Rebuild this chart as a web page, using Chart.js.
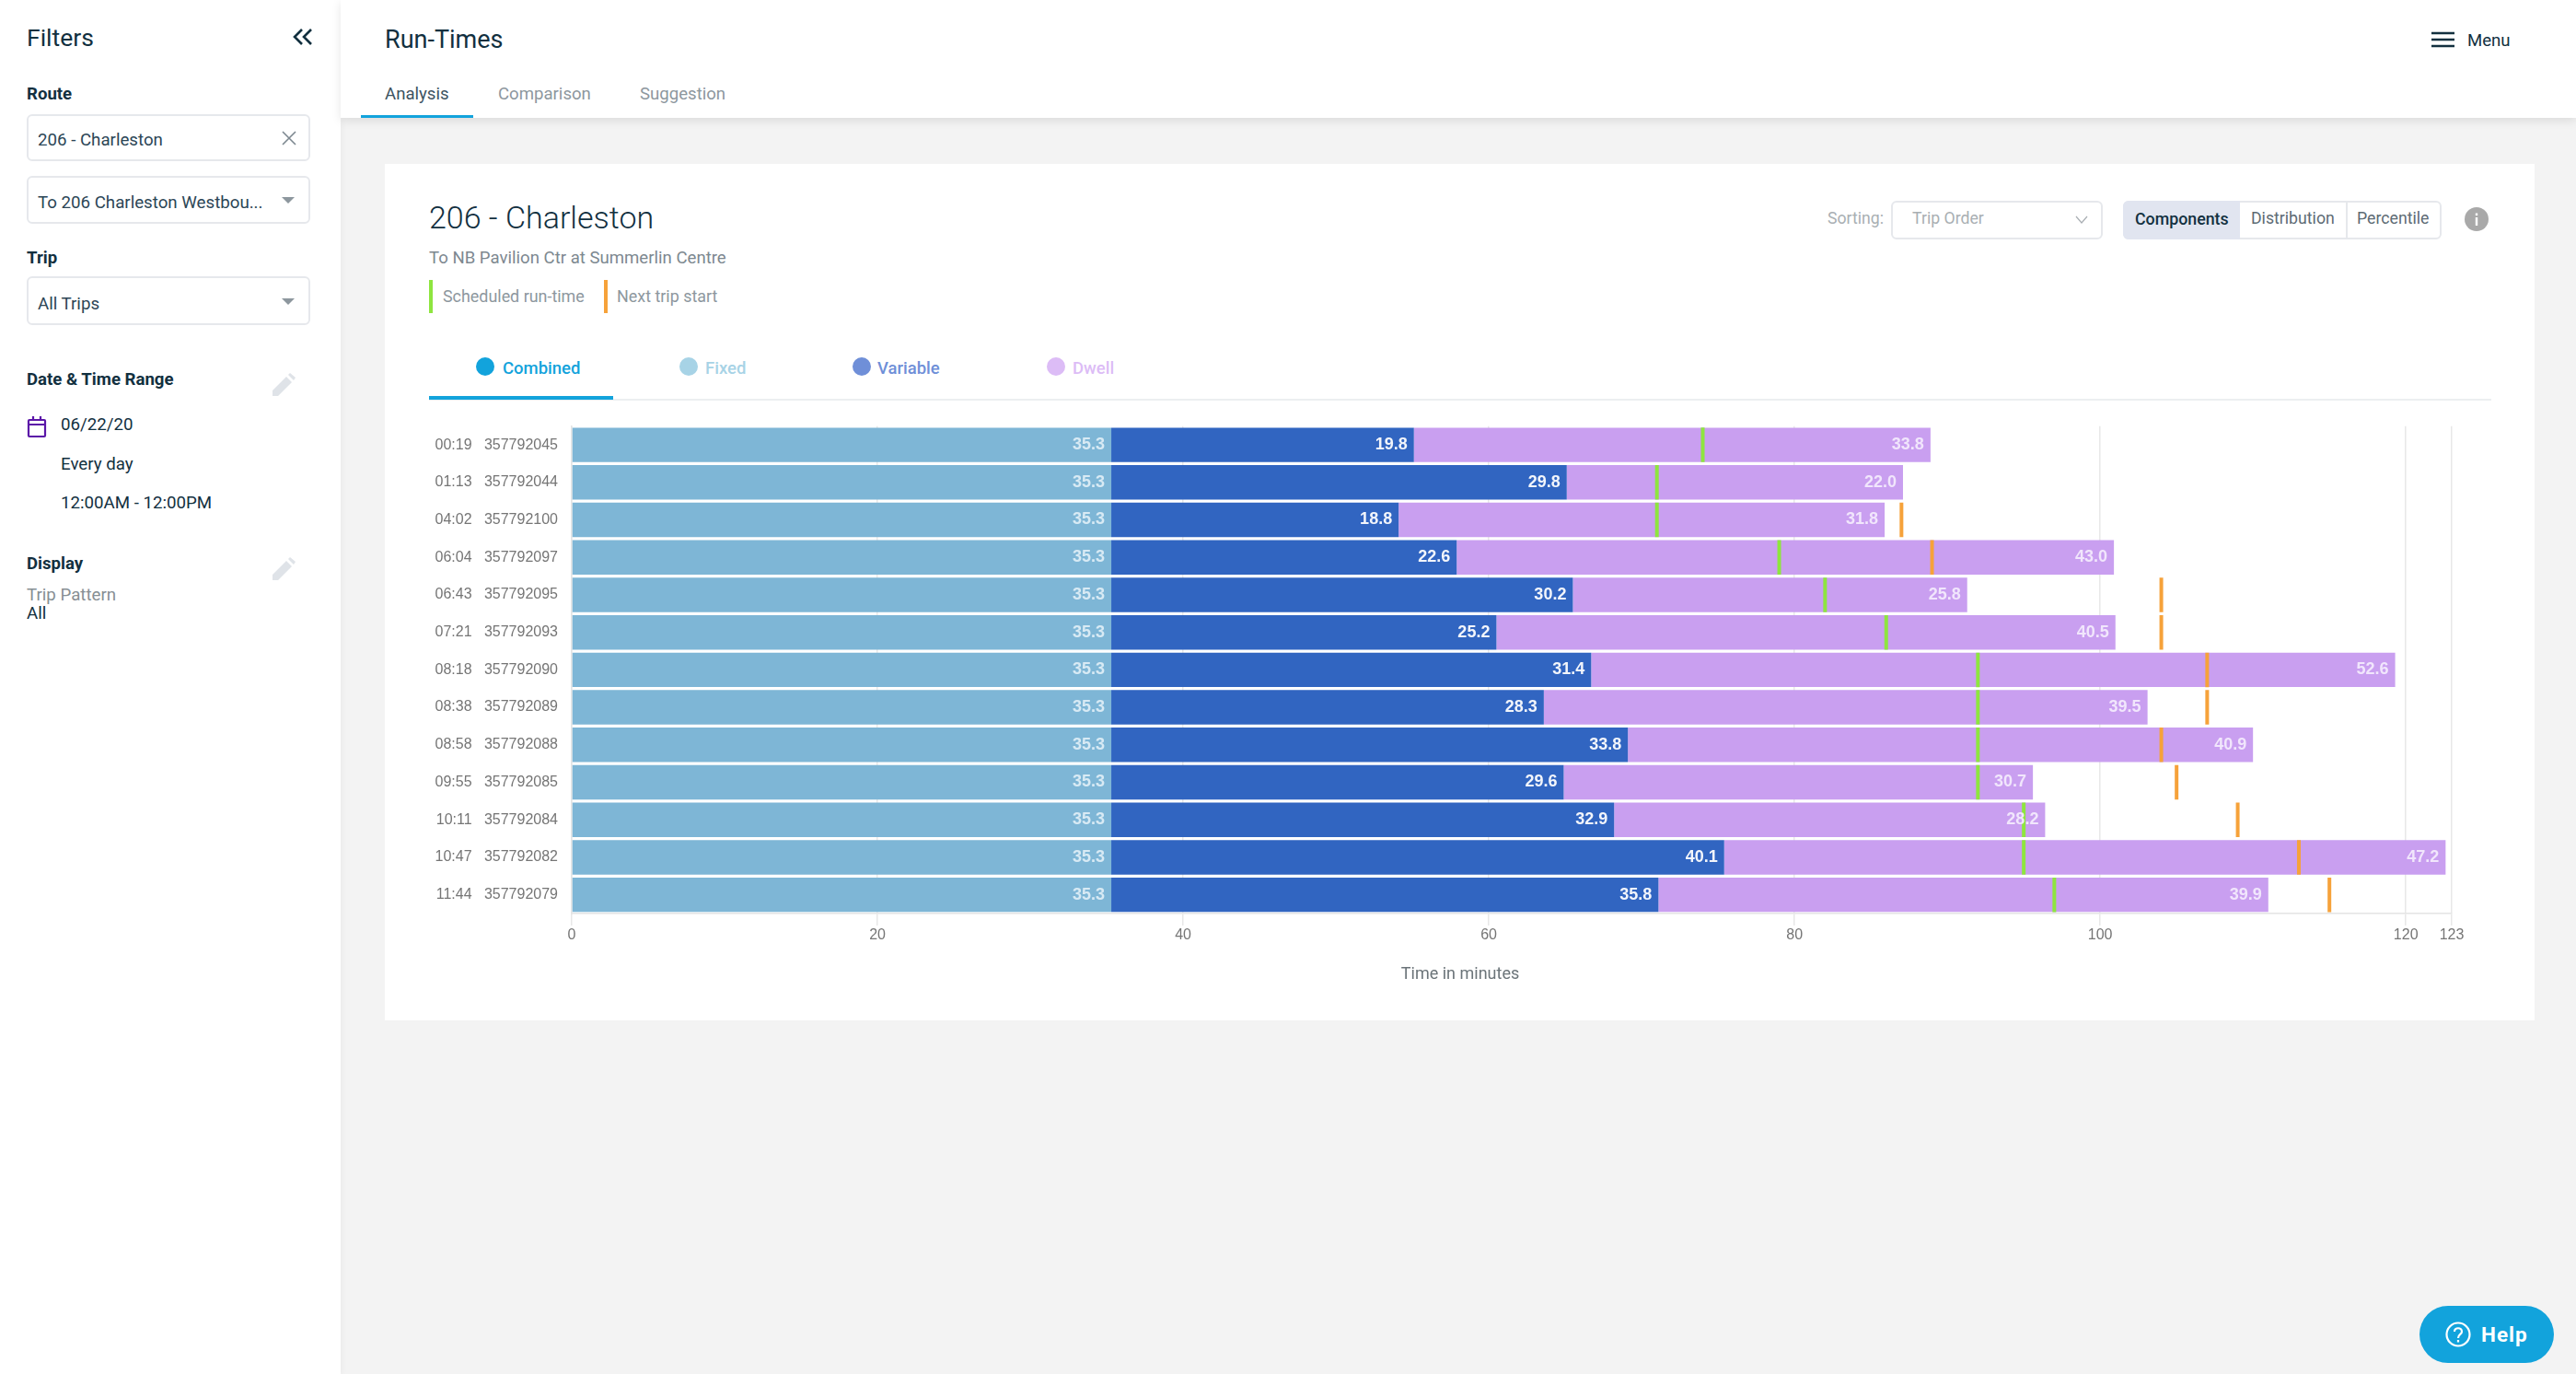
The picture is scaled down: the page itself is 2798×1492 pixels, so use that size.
<!DOCTYPE html><html lang="en">
<head>
  <meta charset="UTF-8" />
  <title>Run-Times</title>
  <script src="https://cdn.jsdelivr.net/npm/chart.js"></script>
  <style>
    html, body { margin: 0; padding: 0; }
    body {
      width: 2798px; height: 1492px; position: relative; overflow: hidden;
      background: #f3f3f3; font-family: Roboto, sans-serif; color: #12303f;
    }
    .sidebar { position: absolute; left: 0; top: 0; width: 370px; height: 1492px; background: #fff; box-shadow: 2px 0 6px rgba(0,0,0,.04); }
    .header { position: absolute; left: 370px; top: 0; width: 2428px; height: 128px; background: #fff; box-shadow: 0 3px 10px rgba(0,0,0,.10); }
    .card { position: absolute; left: 418px; top: 178px; width: 2335px; height: 930px; background: #fff; }
    .t { position: absolute; transform: translateY(-50%); white-space: nowrap; line-height: 1.2; }
    .box { position: absolute; box-sizing: border-box; background: #fff; border: 2px solid #e6e8ec; border-radius: 6px; }
    .rect { position: absolute; }
    .lab { font-size: 18.6px; font-weight: 700; color: #12303f; }
    .val { font-size: 18.7px; color: #2c4656; }
    .caret { position: absolute; width: 0; height: 0; border-left: 7px solid transparent; border-right: 7px solid transparent; border-top: 7px solid #8d979e; }
    .dot { position: absolute; width: 20px; height: 20px; border-radius: 50%; }
    svg { position: absolute; }
    canvas { position: absolute; left: 440px; top: 440px; }
  </style>
</head>
<body>
  <div class="sidebar"></div>
  <div class="header"></div>
  <div class="card"></div>

  <!-- Filters -->
  <div class="t" style="left:29px;top:41px;font-size:26.5px;">Filters</div>
  <svg style="left:318px;top:30px" width="22" height="20" viewBox="0 0 22 20" fill="none" stroke="#12303f" stroke-width="2.6"><path d="M10 2 L2 10 L10 18"/><path d="M20 2 L12 10 L20 18"/></svg>

  <div class="t lab" style="left:29px;top:102px;">Route</div>
  <div class="box" style="left:29px;top:124px;width:308px;height:51px;"></div>
  <div class="t val" style="left:41px;top:152px;">206 - Charleston</div>
  <svg style="left:306px;top:142px" width="16" height="16" viewBox="0 0 16 16" stroke="#7d8890" stroke-width="1.6"><path d="M1 1 L15 15 M15 1 L1 15"/></svg>
  <div class="box" style="left:29px;top:191px;width:308px;height:52px;"></div>
  <div class="t val" style="left:41px;top:220px;">To 206 Charleston Westbou...</div>
  <div class="caret" style="left:306px;top:214px;"></div>

  <div class="t lab" style="left:29px;top:280px;">Trip</div>
  <div class="box" style="left:29px;top:300px;width:308px;height:53px;"></div>
  <div class="t val" style="left:41px;top:330px;">All Trips</div>
  <div class="caret" style="left:306px;top:324px;"></div>

  <div class="t lab" style="left:29px;top:412px;">Date &amp; Time Range</div>
  <svg style="left:296px;top:405px" width="25" height="25" viewBox="0 0 25 25" fill="#dfe3e8"><path d="M0 19 L15 4 L21 10 L6 25 L0 25 Z M17 2 L19 0 L25 5 L23 8 Z"/></svg>
  <svg style="left:29px;top:452px" width="22" height="24" viewBox="0 0 22 24" fill="none" stroke="#5b16a8" stroke-width="2.2"><rect x="2" y="4" width="18" height="18" rx="1"/><path d="M2 9 H20 M7 0 V4 M15 0 V4"/></svg>
  <div class="t val" style="left:66px;top:461px;color:#12303f;">06/22/20</div>
  <div class="t val" style="left:66px;top:504px;color:#12303f;">Every day</div>
  <div class="t val" style="left:66px;top:546px;color:#12303f;">12:00AM - 12:00PM</div>

  <div class="t lab" style="left:29px;top:612px;">Display</div>
  <svg style="left:296px;top:605px" width="25" height="25" viewBox="0 0 25 25" fill="#dfe3e8"><path d="M0 19 L15 4 L21 10 L6 25 L0 25 Z M17 2 L19 0 L25 5 L23 8 Z"/></svg>
  <div class="t val" style="left:29px;top:646px;color:#878f94;">Trip Pattern</div>
  <div class="t val" style="left:29px;top:666px;color:#12303f;">All</div>

  <!-- Header -->
  <div class="t" style="left:418px;top:43px;font-size:27px;">Run-Times</div>
  <div class="t" style="left:418px;top:102px;font-size:18.6px;color:#3c5361;">Analysis</div>
  <div class="t" style="left:541px;top:102px;font-size:18.6px;color:#8d979e;">Comparison</div>
  <div class="t" style="left:695px;top:102px;font-size:18.6px;color:#8d979e;">Suggestion</div>
  <div class="rect" style="left:392px;top:125px;width:122px;height:3px;background:#12a3dc;"></div>
  <svg style="left:2641px;top:34px" width="25" height="18" viewBox="0 0 25 18" stroke="#12303f" stroke-width="2.4"><path d="M0 2 H25 M0 9 H25 M0 16 H25"/></svg>
  <div class="t" style="left:2680px;top:44px;font-size:18.6px;">Menu</div>

  <!-- Card heading -->
  <div class="t" style="left:466px;top:236px;font-size:34px;font-weight:300;">206 - Charleston</div>
  <div class="t" style="left:466px;top:280px;font-size:18.6px;color:#7d8890;">To NB Pavilion Ctr at Summerlin Centre</div>
  <div class="rect" style="left:466px;top:304px;width:4px;height:36px;background:#8ee53f;"></div>
  <div class="t" style="left:481px;top:322px;font-size:17.9px;color:#8d979e;">Scheduled run-time</div>
  <div class="rect" style="left:656px;top:304px;width:4px;height:36px;background:#f6a23a;"></div>
  <div class="t" style="left:670px;top:322px;font-size:17.9px;color:#8d979e;">Next trip start</div>

  <!-- Sorting and view switch -->
  <div class="t" style="left:1985px;top:238px;font-size:17.7px;color:#a9afb3;">Sorting:</div>
  <div class="box" style="left:2054px;top:218px;width:230px;height:42px;"></div>
  <div class="t" style="left:2077px;top:238px;font-size:17.7px;color:#a9afb3;">Trip Order</div>
  <svg style="left:2254px;top:234px" width="14" height="9" viewBox="0 0 14 9" fill="none" stroke="#a9afb3" stroke-width="1.2"><path d="M1 1 L7 8 L13 1"/></svg>
  <div class="box" style="left:2306px;top:218px;width:346px;height:42px;"></div>
  <div class="rect" style="left:2306px;top:218px;width:127px;height:42px;background:#e1e5f0;border-radius:6px 0 0 6px;"></div>
  <div class="rect" style="left:2548px;top:218px;width:2px;height:42px;background:#e6e8ec;"></div>
  <div class="t" style="left:2319px;top:238px;font-size:17.8px;font-weight:500;color:#12303f;">Components</div>
  <div class="t" style="left:2445px;top:238px;font-size:17.7px;color:#5d6b74;">Distribution</div>
  <div class="t" style="left:2560px;top:238px;font-size:17.7px;color:#5d6b74;">Percentile</div>
  <svg style="left:2677px;top:225px" width="26" height="26" viewBox="0 0 26 26"><circle cx="13" cy="13" r="13" fill="#a9a9a9"/><rect x="11.8" y="11" width="2.4" height="9" fill="#fff"/><rect x="11.8" y="6.5" width="2.4" height="2.6" fill="#fff"/></svg>

  <!-- Component tabs -->
  <div class="dot" style="left:517px;top:388px;background:#12a3dc;"></div>
  <div class="t" style="left:546px;top:400px;font-size:18.5px;font-weight:500;color:#12a3dc;">Combined</div>
  <div class="dot" style="left:738px;top:388px;background:#a7d3e6;"></div>
  <div class="t" style="left:766px;top:400px;font-size:18.5px;font-weight:500;color:#a7d3e6;">Fixed</div>
  <div class="dot" style="left:926px;top:388px;background:#6f8fd8;"></div>
  <div class="t" style="left:953px;top:400px;font-size:18.5px;font-weight:500;color:#6f8fd8;">Variable</div>
  <div class="dot" style="left:1137px;top:388px;background:#dcbcf6;"></div>
  <div class="t" style="left:1165px;top:400px;font-size:18.5px;font-weight:500;color:#dcbcf6;">Dwell</div>
  <div class="rect" style="left:466px;top:433px;width:2240px;height:2px;background:#eceff1;"></div>
  <div class="rect" style="left:466px;top:430px;width:200px;height:4px;background:#12a3dc;"></div>

  <canvas id="runTimes" width="2263" height="640"></canvas>
  <div class="t" style="left:1586px;top:1057px;transform:translate(-50%,-50%);font-size:18px;color:#6b7479;">Time in minutes</div>

  <!-- Help button -->
  <div class="rect" style="left:2628px;top:1418px;width:146px;height:62px;border-radius:31px;background:#12a3dc;"></div>
  <svg style="left:2656px;top:1435px" width="28" height="28" viewBox="0 0 28 28" fill="none" stroke="#fff" stroke-width="2.2"><circle cx="14" cy="14" r="12.5"/><path d="M10 11 C10 6 18 6 18 11 C18 14 14 14 14 18" /><path d="M14 20 V22.5"/></svg>
  <div class="t" style="left:2695px;top:1449px;font-size:22.5px;font-weight:700;letter-spacing:1px;color:#fff;">Help</div>

  <script>
    const tripTimes = ['00:19','01:13','04:02','06:04','06:43','07:21','08:18','08:38','08:58','09:55','10:11','10:47','11:44'];
    const tripIds = ['357792045','357792044','357792100','357792097','357792095','357792093','357792090','357792089','357792088','357792085','357792084','357792082','357792079'];
    const fixedTimes = [35.3,35.3,35.3,35.3,35.3,35.3,35.3,35.3,35.3,35.3,35.3,35.3,35.3];
    const variableTimes = [19.8,29.8,18.8,22.6,30.2,25.2,31.4,28.3,33.8,29.6,32.9,40.1,35.8];
    const dwellTimes = [33.8,22.0,31.8,43.0,25.8,40.5,52.6,39.5,40.9,30.7,28.2,47.2,39.9];
    const scheduledRunTime = [74,71,71,79,82,86,92,92,92,92,95,95,97];
    const nextTripStart = [null,null,87,89,104,104,107,107,104,105,109,113,115];
    const xTicks = [0,20,40,60,80,100,120,123];

    const rowLabels = tripTimes.map((t, i) => t + '   ' + tripIds[i]);

    // value labels go on top of everything, so the markers pass underneath
    const barLabels = {
      id: 'barLabels',
      afterDraw(chart) {
        const ctx = chart.ctx;
        ctx.save();
        ctx.font = 'bold 18px "Liberation Sans", Arial, sans-serif';
        ctx.textAlign = 'right';
        ctx.textBaseline = 'middle';
        chart.data.datasets.forEach((ds, d) => {
          if (ds.type !== 'bar') return;
          chart.getDatasetMeta(d).data.forEach((el, i) => {
            ctx.fillStyle = ds.labelColor;
            ctx.fillText(ds.data[i].toFixed(1), el.x - 7, el.y);
          });
        });
        ctx.restore();
      }
    };

    function markerSet(label, values, color) {
      return {
        type: 'scatter',
        label: label,
        data: values.map((v, i) => ({ x: v, y: rowLabels[i] })),
        pointStyle: 'line',
        rotation: 90,
        radius: 18.75,
        borderColor: color,
        backgroundColor: color,
        borderWidth: 4
      };
    }

    new Chart(document.getElementById('runTimes'), {
      data: {
        labels: rowLabels,
        datasets: [
          markerSet('Scheduled run-time', scheduledRunTime, '#8ee53f'),
          markerSet('Next trip start', nextTripStart, '#f6a23a'),
          { type: 'bar', label: 'Fixed', data: fixedTimes, backgroundColor: '#7eb6d6', labelColor: '#d8eaf4', order: 2 },
          { type: 'bar', label: 'Variable', data: variableTimes, backgroundColor: '#3165c1', labelColor: '#f2f5fb', order: 2 },
          { type: 'bar', label: 'Dwell', data: dwellTimes, backgroundColor: '#c99ff0', labelColor: '#f1e6fc', order: 2 }
        ]
      },
      options: {
        responsive: false,
        animation: false,
        datasets: { bar: { indexAxis: 'y', barPercentage: 0.92, categoryPercentage: 1 } },
        layout: { padding: { top: 21, right: 40, bottom: 0, left: 0 } },
        plugins: { legend: { display: false }, tooltip: { enabled: false } },
        scales: {
          x: {
            type: 'linear',
            stacked: true,
            min: 0,
            max: 123,
            afterBuildTicks: axis => { axis.ticks = xTicks.map(v => ({ value: v })); },
            afterFit: axis => { axis.height = 88; },
            grid: { color: '#e8e8e8', lineWidth: 1.5, tickLength: 13 },
            border: { color: '#e4e4e4', width: 1.5 },
            ticks: { autoSkip: false, maxRotation: 0, padding: 1, color: '#757575', font: { family: '"Liberation Sans", Arial, sans-serif', size: 16 } }
          },
          y: {
            type: 'category',
            stacked: true,
            offset: true,
            afterFit: axis => { axis.width = 181; },
            grid: { display: false },
            border: { color: '#e4e4e4', width: 1.5 },
            ticks: { autoSkip: false, padding: 7, color: '#757575', font: { family: '"Liberation Sans", Arial, sans-serif', size: 16 } }
          }
        }
      },
      plugins: [barLabels]
    });
  </script>
</body>
</html>
